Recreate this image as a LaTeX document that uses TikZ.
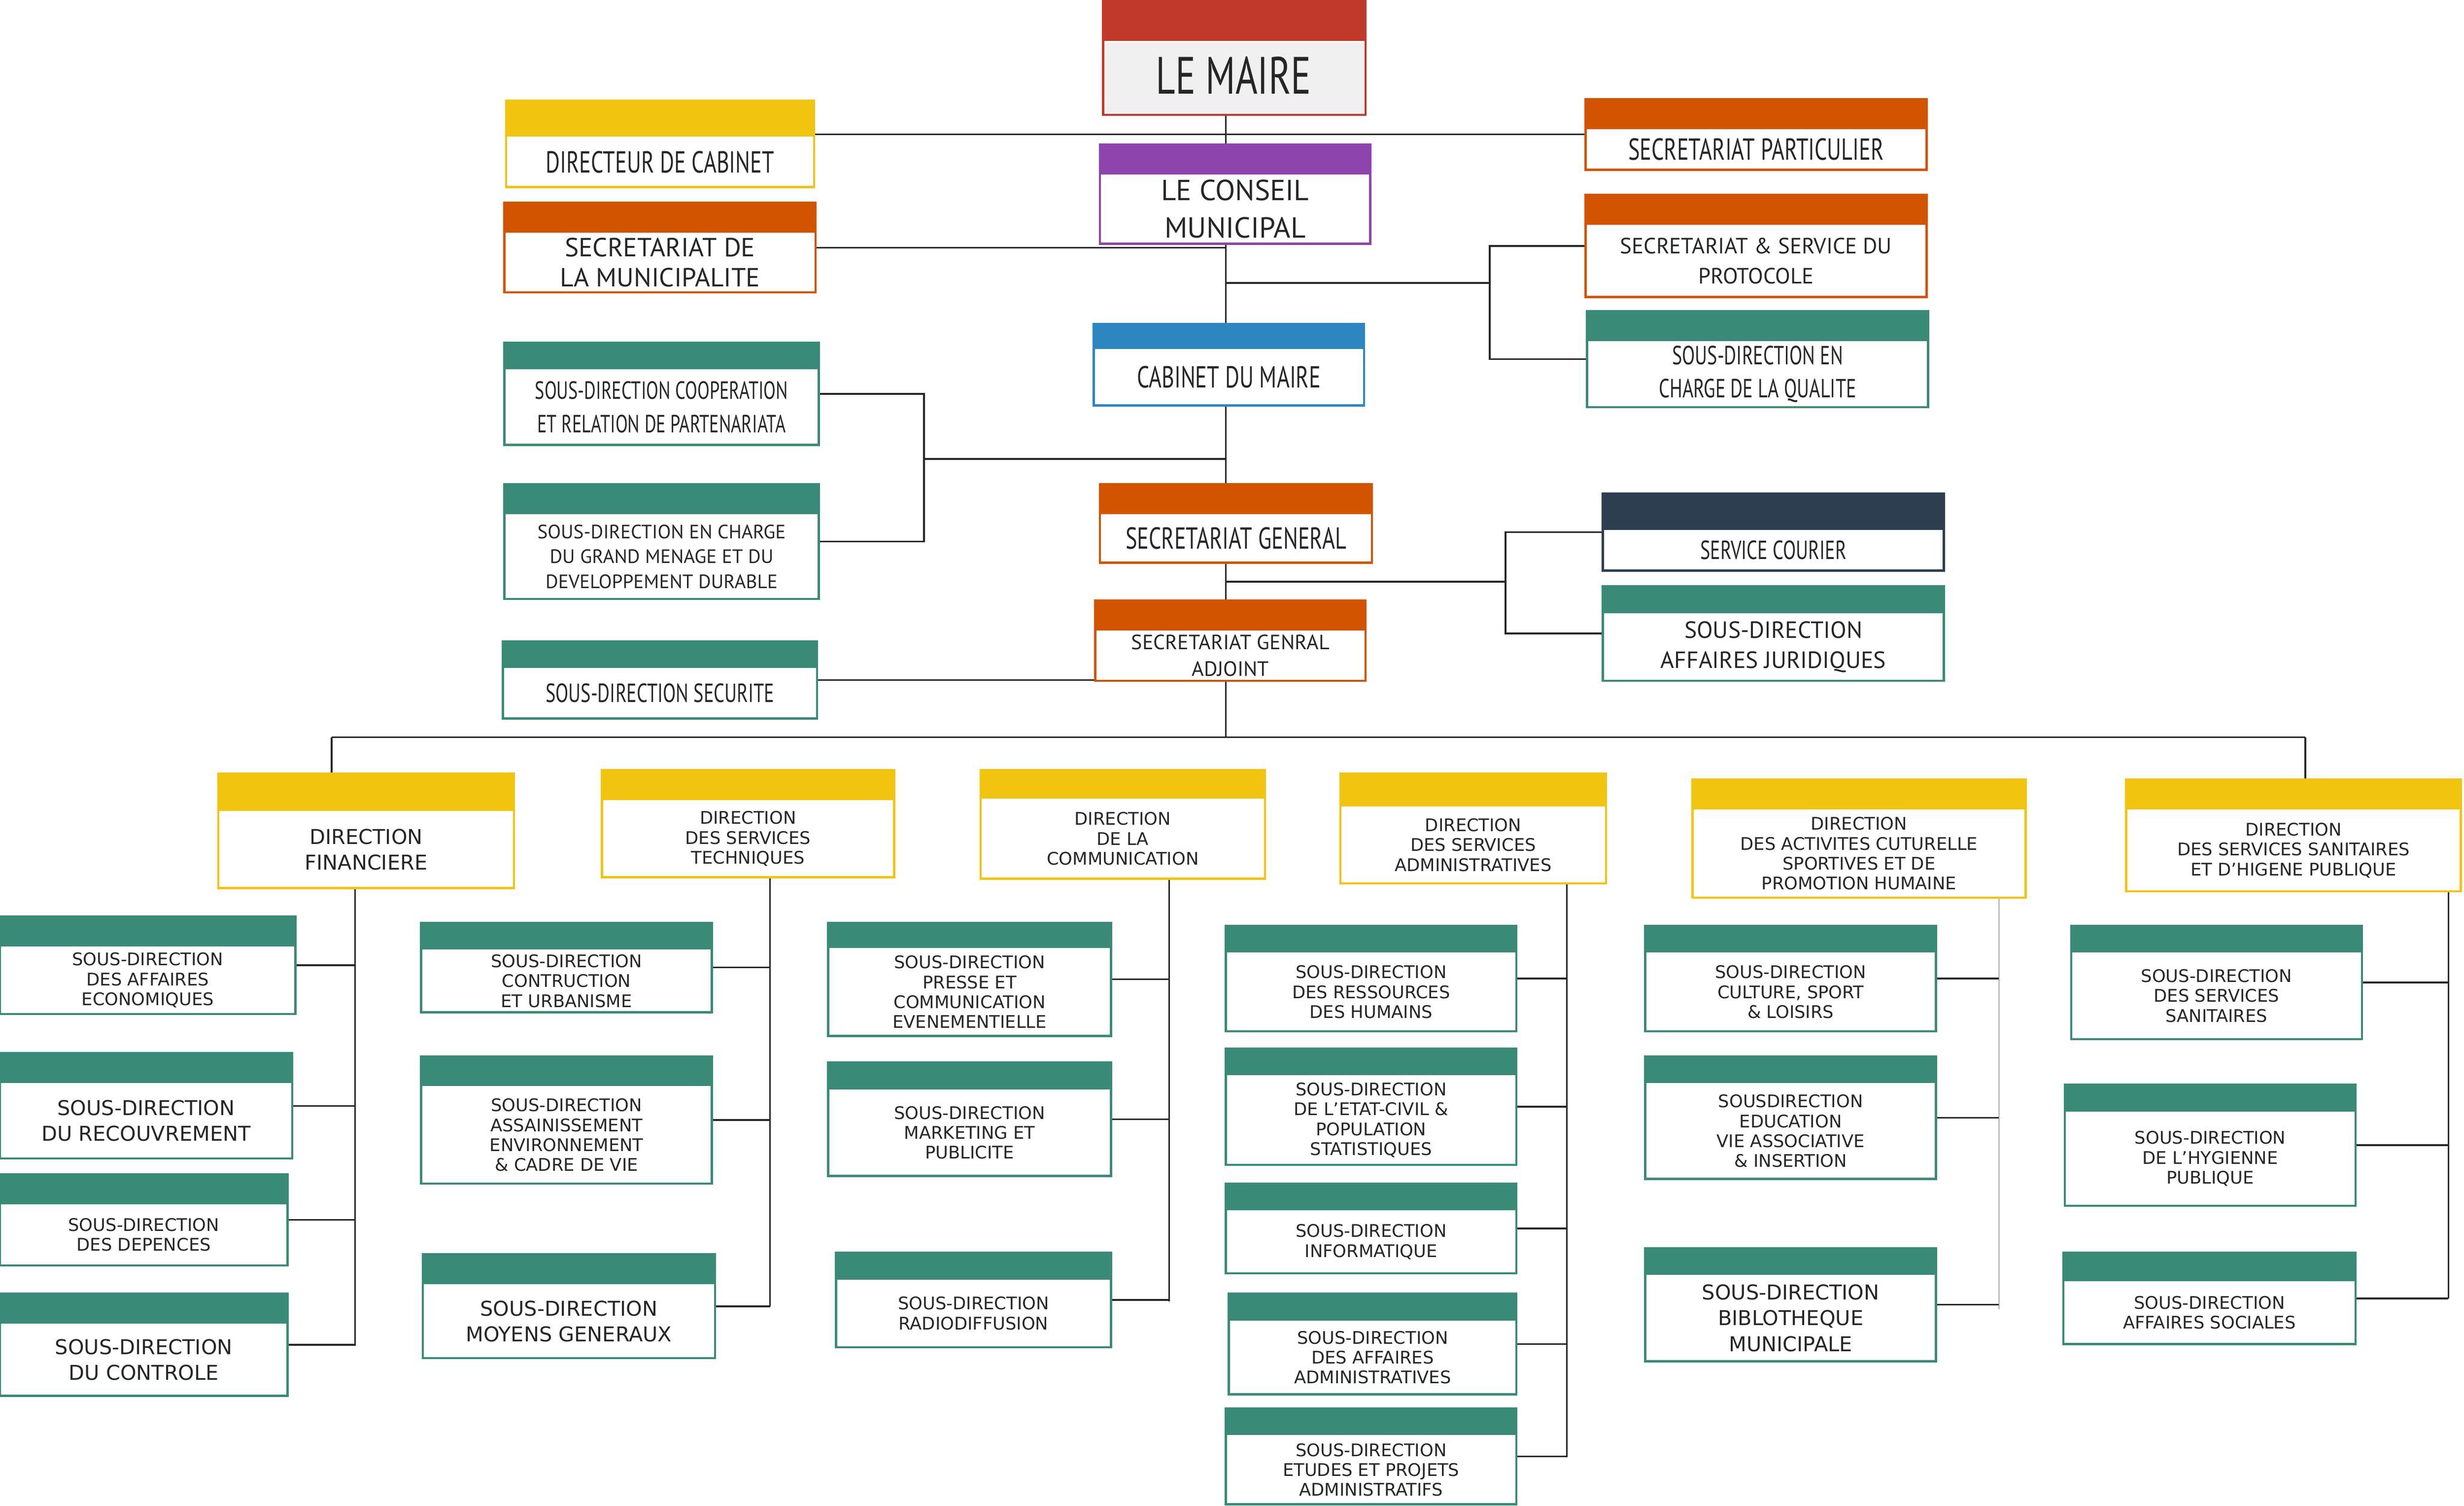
\documentclass[tikz,border=0pt]{standalone}
\usepackage{fontspec}
\usetikzlibrary{positioning, calc, backgrounds}
\newfontfamily\condfont[FakeStretch=0.72]{PT Sans}
\newfontfamily\plainfont{PT Sans}
\newfontfamily\widefont{DejaVu Sans}
\definecolor{redm}{HTML}{C0392B}
\definecolor{yelm}{HTML}{F1C40F}
\definecolor{orgm}{HTML}{D35400}
\definecolor{purm}{HTML}{8E44AD}
\definecolor{blum}{HTML}{2E86C1}
\definecolor{team}{HTML}{3A8A78}
\definecolor{dkm}{HTML}{2C3E50}
\definecolor{boxbg}{HTML}{FFFFFF}
\tikzset{
    ubox/.style = {draw, line width=0.8pt, fill=boxbg, inner sep=0pt, outer sep=0pt},
    utext/.style = {align=center, inner sep=0pt, text=black!85},
    link/.style = {draw=black!85, line width=0.6pt},
    cf/.style = {font=\condfont\fontsize{11}{13}\selectfont},
    cfs/.style = {font=\condfont\fontsize{9.5}{12}\selectfont},
    pf/.style = {font=\plainfont\fontsize{8}{11}\selectfont},
    wf/.style = {font=\widefont\fontsize{6.3}{7.2}\selectfont},
    wfb/.style = {font=\widefont\fontsize{7.4}{9.3}\selectfont},
}
% name, x1, y1, x2, y2, band bottom, colour, font, text
\newcommand{\ubox}[9]{%
    \node[ubox, draw=#7, minimum width={(#4-#2)*0.02cm}, minimum height={(#5-#3)*0.02cm}]
        (#1) at ({(#2+#4)/2},{(#3+#5)/2}) {};
    \fill[#7] (#2,#3) rectangle (#4,#6);
    \node[utext, #8] at ({(#2+#4)/2},{(#6+#5)/2}) {#9};
}
\begin{document}
\begin{tikzpicture}[x=0.02cm, y=-0.02cm]
\useasboundingbox (0,0) rectangle (1568,958);
% top of the chart
\ubox{maire}{702}{0}{869}{73}{26}{redm}{font=\condfont\fontsize{19}{22}\selectfont}{LE MAIRE}
\fill[black!6] (703,27) rectangle (868,72);
\node[utext, font=\condfont\fontsize{19}{22}\selectfont] at (785,48) {LE MAIRE};
\ubox{dcab}{322}{64}{518}{119}{87}{yelm}{cf}{DIRECTEUR DE CABINET}
\ubox{spart}{1009}{63}{1226}{108}{82}{orgm}{cf}{SECRETARIAT PARTICULIER}
\ubox{conseil}{700}{92}{872}{155}{111}{purm}{font=\plainfont\fontsize{10.5}{13.5}\selectfont}{LE CONSEIL\\MUNICIPAL}
\ubox{smun}{321}{129}{519}{186}{148}{orgm}{font=\plainfont\fontsize{9.5}{11}\selectfont}{SECRETARIAT DE\\LA MUNICIPALITE}
\ubox{sproto}{1009}{124}{1226}{189}{143}{orgm}{pf}{SECRETARIAT \& SERVICE DU\\PROTOCOLE}
\ubox{squal}{1010}{198}{1227}{259}{217}{team}{cfs}{SOUS-DIRECTION EN\\CHARGE DE LA QUALITE}
\ubox{cabm}{696}{206}{868}{258}{222}{blum}{cf}{CABINET DU MAIRE}
\ubox{scoop}{321}{218}{521}{283}{235}{team}{font=\condfont\fontsize{9}{12}\selectfont}{SOUS-DIRECTION COOPERATION\\ET RELATION DE PARTENARIATA}
\ubox{smen}{321}{308}{521}{381}{327}{team}{font=\plainfont\fontsize{7}{9}\selectfont}{SOUS-DIRECTION EN CHARGE\\DU GRAND MENAGE ET DU\\DEVELOPPEMENT DURABLE}
\ubox{sgen}{700}{308}{873}{358}{327}{orgm}{cf}{SECRETARIAT GENERAL}
\ubox{scour}{1020}{314}{1237}{363}{337}{dkm}{cfs}{SERVICE COURIER}
\ubox{sjur}{1020}{373}{1237}{433}{390}{team}{font=\plainfont\fontsize{8.5}{11}\selectfont}{SOUS-DIRECTION\\AFFAIRES JURIDIQUES}
\ubox{sgadj}{697}{382}{869}{433}{401}{orgm}{font=\plainfont\fontsize{7.5}{9.5}\selectfont}{SECRETARIAT GENRAL\\ADJOINT}
\ubox{ssec}{320}{408}{520}{457}{425}{team}{cfs}{SOUS-DIRECTION SECURITE}
% directions
\ubox{dfin}{139}{492}{327}{565}{516}{yelm}{wfb}{DIRECTION\\FINANCIERE}
\ubox{dtec}{383}{490}{569}{558}{509}{yelm}{wf}{DIRECTION\\DES SERVICES\\TECHNIQUES}
\ubox{dcom}{624}{490}{805}{559}{508}{yelm}{wf}{DIRECTION\\DE LA\\COMMUNICATION}
\ubox{dadm}{853}{492}{1022}{562}{513}{yelm}{wf}{DIRECTION\\DES SERVICES\\ADMINISTRATIVES}
\ubox{dact}{1077}{496}{1289}{571}{515}{yelm}{wf}{DIRECTION\\DES ACTIVITES CUTURELLE\\SPORTIVES ET DE\\PROMOTION HUMAINE}
\ubox{dsan}{1353}{496}{1566}{567}{515}{yelm}{wf}{DIRECTION\\DES SERVICES SANITAIRES\\ET D’HIGENE PUBLIQUE}
% sous-directions
\ubox{feco}{0}{583}{188}{645}{602}{team}{wf}{SOUS-DIRECTION\\DES AFFAIRES\\ECONOMIQUES}
\ubox{frec}{0}{670}{186}{737}{689}{team}{wfb}{SOUS-DIRECTION\\DU RECOUVREMENT}
\ubox{fdep}{0}{747}{183}{805}{766}{team}{wf}{SOUS-DIRECTION\\DES DEPENCES}
\ubox{fcon}{0}{823}{183}{888}{842}{team}{wfb}{SOUS-DIRECTION\\DU CONTROLE}
\ubox{turb}{268}{587}{453}{644}{604}{team}{wf}{SOUS-DIRECTION\\CONTRUCTION\\ET URBANISME}
\ubox{tass}{268}{672}{453}{753}{691}{team}{wf}{SOUS-DIRECTION\\ASSAINISSEMENT\\ENVIRONNEMENT\\\& CADRE DE VIE}
\ubox{tmoy}{269}{798}{455}{864}{817}{team}{wfb}{SOUS-DIRECTION\\MOYENS GENERAUX}
\ubox{cpre}{527}{587}{707}{659}{603}{team}{wf}{SOUS-DIRECTION\\PRESSE ET\\COMMUNICATION\\EVENEMENTIELLE}
\ubox{cmar}{527}{676}{707}{748}{693}{team}{wf}{SOUS-DIRECTION\\MARKETING ET\\PUBLICITE}
\ubox{crad}{532}{797}{707}{857}{814}{team}{wf}{SOUS-DIRECTION\\RADIODIFFUSION}
\ubox{arh}{780}{589}{965}{656}{606}{team}{wf}{SOUS-DIRECTION\\DES RESSOURCES\\DES HUMAINS}
\ubox{aciv}{780}{667}{965}{741}{684}{team}{wf}{SOUS-DIRECTION\\DE L’ETAT-CIVIL \&\\POPULATION\\STATISTIQUES}
\ubox{ainf}{780}{753}{965}{810}{770}{team}{wf}{SOUS-DIRECTION\\INFORMATIQUE}
\ubox{aadm}{782}{823}{965}{887}{840}{team}{wf}{SOUS-DIRECTION\\DES AFFAIRES\\ADMINISTRATIVES}
\ubox{aetu}{780}{896}{965}{957}{913}{team}{wf}{SOUS-DIRECTION\\ETUDES ET PROJETS\\ADMINISTRATIFS}
\ubox{ecul}{1047}{589}{1232}{656}{606}{team}{wf}{SOUS-DIRECTION\\CULTURE, SPORT\\\& LOISIRS}
\ubox{eedu}{1047}{672}{1232}{750}{689}{team}{wf}{SOUSDIRECTION\\EDUCATION\\VIE ASSOCIATIVE\\\& INSERTION}
\ubox{ebib}{1047}{794}{1232}{866}{811}{team}{wfb}{SOUS-DIRECTION\\BIBLOTHEQUE\\MUNICIPALE}
\ubox{ssan}{1318}{589}{1503}{661}{606}{team}{wf}{SOUS-DIRECTION\\DES SERVICES\\SANITAIRES}
\ubox{shyg}{1314}{690}{1499}{767}{707}{team}{wf}{SOUS-DIRECTION\\DE L’HYGIENNE\\PUBLIQUE}
\ubox{ssoc}{1313}{797}{1499}{855}{815}{team}{wf}{SOUS-DIRECTION\\AFFAIRES SOCIALES}
% connectors
\coordinate (spine) at (780,469);
\coordinate (busL) at (211,469);
\coordinate (busR) at (1467,469);
\coordinate (br1) at (948,180);
\coordinate (bl1) at (588,292);
\coordinate (br2) at (958,370);
\coordinate (tf) at (226,856);
\coordinate (tt) at (490,831);
\coordinate (tc) at (744,828);
\coordinate (ta) at (997,927);
\coordinate (te) at (1272,833);
\coordinate (ts) at (1558,826);
\begin{scope}[on background layer]
    \draw[link] (spine |- maire.south) -- (spine);
    \draw[link] (dcab.east |- spart.west) -- (spart.west);
    \draw[link] (smun.east) -- (smun.east -| spine);
    \draw[link] (spine |- br1) -- (br1);
    \draw[link] (sproto.west) -| (br1);
    \draw[link] (squal.west) -| (br1);
    \draw[link] (bl1) -- (bl1 -| spine);
    \draw[link] (scoop.east) -| (bl1);
    \draw[link] (smen.east) -| (bl1);
    \draw[link] (spine |- br2) -- (br2);
    \draw[link] (scour.west) -| (br2);
    \draw[link] (sjur.west) -| (br2);
    \draw[link] (ssec.east) -- (ssec.east -| spine);
    \draw[link] (busL) -- (busR);
    \draw[link] (busL) -- (busL |- dfin.north);
    \draw[link] (busR) -- (busR |- dsan.north);
    \draw[link] (dfin.south -| tf) -- (tf);
    \foreach \s in {feco, frec, fdep, fcon} \draw[link] (\s.east) -- (\s.east -| tf);
    \draw[link] (dtec.south -| tt) -- (tt);
    \foreach \s in {turb, tass, tmoy} \draw[link] (\s.east) -- (\s.east -| tt);
    \draw[link] (dcom.south -| tc) -- (tc);
    \foreach \s in {cpre, cmar, crad} \draw[link] (\s.east) -- (\s.east -| tc);
    \draw[link] (dadm.south -| ta) -- (ta);
    \foreach \s in {arh, aciv, ainf, aadm, aetu} \draw[link] (\s.east) -- (\s.east -| ta);
    \draw[link, draw=black!25] (dact.south -| te) -- (te);
    \foreach \s in {ecul, eedu, ebib} \draw[link] (\s.east) -- (\s.east -| te);
    \draw[link] (dsan.south -| ts) -- (ts);
    \foreach \s in {ssan, shyg, ssoc} \draw[link] (\s.east) -- (\s.east -| ts);
\end{scope}
\end{tikzpicture}
\end{document}
